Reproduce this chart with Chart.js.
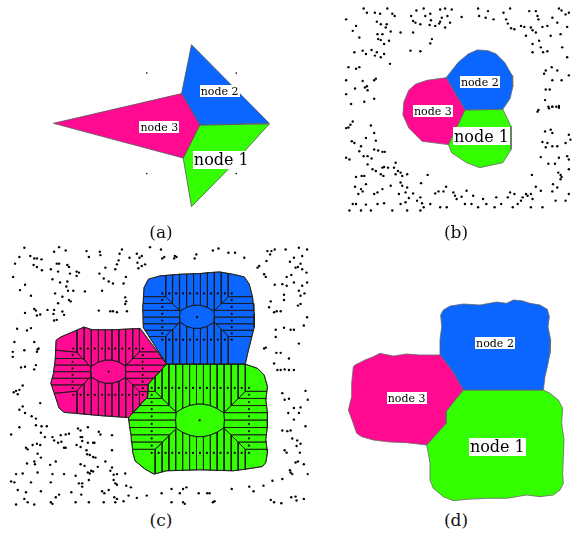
<!DOCTYPE html>
<html><head><meta charset="utf-8">
<script src="https://cdn.jsdelivr.net/npm/chart.js@4.4.1/dist/chart.umd.min.js"></script>
<style>
html,body{margin:0;padding:0;background:#fff;}
#wrap{position:relative;width:573px;height:540px;overflow:hidden;background:#fff;}
canvas{position:absolute;}
.cap{position:absolute;font-family:"DejaVu Serif",serif;font-size:17px;color:#111;width:40px;text-align:center;line-height:20px;}
</style></head><body>
<div id="wrap">
<canvas id="ca" width="250" height="190" style="left:40px;top:30px;width:250px;height:190px"></canvas>
<canvas id="cb" width="233" height="217" style="left:340px;top:0px;width:233px;height:217px"></canvas>
<canvas id="cc" width="310" height="270" style="left:0px;top:240px;width:310px;height:270px"></canvas>
<canvas id="cd" width="233" height="220" style="left:340px;top:290px;width:233px;height:220px"></canvas>
<div class="cap" style="left:141px;top:222px">(a)</div>
<div class="cap" style="left:436px;top:222px">(b)</div>
<div class="cap" style="left:141px;top:510px">(c)</div>
<div class="cap" style="left:436px;top:510px">(d)</div>
</div>
<script>
// ---------- colours ----------
const MAGENTA = '#ff0a90', BLUE = '#0a66ff', GREEN = '#33ff00';
const nodeNames = ['node 1', 'node 2', 'node 3'];

// ---------- panel (a) ----------
const aBlue = [[455,42],[690,280],[480,285],[425,190]];
const aMagenta = [[38,280],[425,190],[480,285],[430,385]];
const aGreen = [[480,285],[690,282],[560,425],[455,532],[430,385]];
const aDots = [[320,128],[590,128],[320,432],[590,432]];
const aLabelX = [545, 540, 358];
const aLabelY = [390, 183, 292];

// ---------- panel (b) ----------
const bBlue = [[318,232],[355,185],[385,160],[412,148],[445,150],[470,160],[495,185],[518,225],[520,260],[512,295],[490,328],[375,330]];
const bMagenta = [[318,232],[375,330],[325,435],[300,432],[245,425],[205,385],[187,345],[190,305],[205,270],[225,252],[260,240]];
const bGreen = [[375,330],[490,328],[515,380],[515,450],[490,490],[420,505],[380,490],[335,460],[325,435]];
const bLabelX = [425, 420, 278];
const bLabelY = [410, 245, 332];
const bDots = [
[68,22],[78,35],[102,35],[118,38],[140,22],[155,38],[162,45],[15,55],[212,45],[228,28],[250,22],[255,45],[270,38],[300,25],[315,22],[335,25],[305,50],[322,45],[365,48],[415,22],[418,45],[438,50],[445,30],[462,55],[492,35],[512,22],[500,55],[570,30],[590,30],[595,45],[598,55],[640,50],[660,22],[668,28],[680,40],[690,35],
[45,75],[35,90],[108,62],[120,70],[138,70],[135,80],[150,92],[125,100],[110,100],[180,95],[218,60],[225,65],[240,70],[268,72],[272,58],[285,75],[297,68],[315,80],[330,65],[300,62],[505,68],[515,82],[525,85],[545,75],[555,78],[575,80],[580,88],[590,95],[610,78],[625,75],[655,65],[685,78],[218,95],[560,105],[635,105],[665,100],
[55,110],[112,115],[120,118],[145,120],[130,130],[275,115],[270,128],[40,155],[65,150],[75,160],[92,148],[108,155],[102,165],[120,170],[130,160],[148,190],[210,150],[240,152],[580,130],[605,140],[580,155],[612,155],[625,152],[685,170],[638,200],[620,210],[655,210],[600,120],[670,140],
[22,200],[45,205],[55,200],[15,240],[65,242],[100,240],[105,235],[78,258],[72,262],[80,270],[42,265],[15,282],[100,296],[30,312],[70,305],[615,220],[640,240],[668,240],[690,225],[620,268],[632,268],[618,300],[628,320],[640,320],[652,320],[660,318],
[35,365],[28,375],[22,383],[15,385],[90,377],[100,400],[75,415],[105,423],[32,425],[40,430],[60,440],[55,455],[68,470],[80,470],[92,477],[100,450],[112,453],[125,457],[132,457],[15,475],[25,480],[80,495],[95,510],[105,515],[125,505],[130,503],[142,505],[160,505],[165,490],[172,515],[180,520],[200,525],[165,525],[185,530],[120,525],[128,530],[45,533],[62,530],[70,530],[75,555],[60,570],[42,563],[52,585],[65,577],[100,585],[110,580],[125,570],[150,560],[180,550],[185,560],[200,565],[195,580],[175,585],[205,597],[218,583],[230,605],[240,595],[242,552],[262,527],[45,615],[35,615],[75,617],[110,615],[130,613],[180,615],[195,610],[245,613],[250,625],[270,615],[285,583],[295,577],[310,577],[318,563],[340,580],[345,590],[350,600],[365,593],[375,615],[395,615],[415,625],[440,615],[465,625],[485,615],[505,595],[512,580],[525,585],[535,615],[545,605],[550,595],[560,585],[565,590],[575,585],[580,600],[590,563],[605,575],[640,577],[642,555],[655,565],[665,540],[680,605],[690,585],[650,605],[610,625],[575,625],[520,625],[470,595],[430,600],[400,590],[380,575],[320,625],[300,625],[240,635],[200,635],[155,635],[90,635],[60,635],[25,635],
[595,335],[598,330],[630,325],[640,320],[660,323],[635,390],[618,395],[640,400],[625,430],[610,427],[620,443],[640,440],[655,440],[680,430],[690,405],[695,420],[605,473],[628,493],[648,493],[660,475],[685,470],[690,480],[578,527],[658,520],[665,527],[668,533],[690,510]
];

// ---------- panel (c) ----------
const cBlue = [[500,372],[430,262],[428,200],[432,140],[445,115],[480,105],[540,100],[600,98],[630,95],[660,93],[700,100],[735,108],[750,130],[760,170],[765,220],[765,260],[755,300],[745,340],[738,372]];
const cMagenta = [[500,372],[445,432],[442,472],[385,534],[300,528],[190,518],[175,505],[162,465],[150,430],[158,400],[163,360],[166,300],[180,290],[215,275],[250,260],[275,268],[340,268],[420,264]];
const cGreen = [[500,372],[738,372],[775,385],[795,405],[805,440],[800,480],[805,520],[805,560],[800,600],[805,640],[800,670],[790,682],[740,690],[700,695],[600,692],[500,695],[462,705],[435,690],[405,665],[398,640],[393,590],[388,560],[385,534],[442,472],[445,432]];
// node dot layouts (centre, row x positions, top/bottom row y, side column x, side column y)
const cBlueCentre = [592,230];
const cBlueRowX = [487,508,529,550,571,592,613,634,655,676,697];
const cBlueRowY = [158,298];
const cBlueColX = [487,697];
const cBlueColY = [178,199,220,240,260,279];
const cMagentaCentre = [325,395];
const cMagentaRowX = [218,240,262,283,305,325,345,366,387,408,428];
const cMagentaRowY = [325,465];
const cMagentaColX = [216,428];
const cMagentaColY = [345,365,385,405,425,445];
const cGreenCentre = [600,542];
const cGreenRowX = [455,476,497,517,538,559,580,601,622,643,663,685,706,727,749];
const cGreenRowY = [444,641];
const cGreenColX = [455,749];
const cGreenColY = [465,487,508,530,553,575,597,619];
const cDots = [
[70,20],[160,32],[175,18],[195,28],[258,30],[265,48],[298,32],[300,42],[358,38],[365,25],[410,38],[418,50],[425,45],[450,18],[55,48],[88,45],[100,52],[108,52],[122,55],[42,68],[98,72],[108,78],[168,68],[175,68],[200,72],[205,78],[123,88],[150,85],[172,92],[228,92],[235,95],[208,98],[315,80],[345,85],[350,70],[355,58],[388,50],[412,65],[425,75],[435,70],[415,82],[297,98],[36,108],[155,115],[178,125],[200,122],[228,105],[310,113],[325,122],[338,128],[370,128],[377,108],[72,132],[197,137],[202,150],[218,150],[253,152],[57,148],[305,150],[163,158],[90,165],[185,168],[205,178],[210,182],[375,170],[378,182],[375,190],[172,188],[100,205],[105,210],[140,208],[160,208],[72,217],[118,222],[108,225],[158,220],[185,213],[190,223],[295,210],[330,212],[338,212],[350,215],[380,212],[168,238],[160,240],[48,265],[78,270],[90,263],[40,305],[100,305],[70,330],[110,328],[113,325],[108,335],[35,335],[35,350],[60,382],[72,380],[105,375],[100,388],
[483,25],[525,45],[530,48],[493,48],[487,52],[523,52],[585,52],[590,40],[640,28],[657,22],[687,35],[707,35],[735,50],[805,30],[817,30],[827,25],[813,40],[860,25],[900,20],[925,25],[885,50],[910,45],[873,62],[905,68],[780,75],[775,80],[802,60],[795,100],[800,108],[890,80],[897,78],[910,85],[863,108],[877,102],[923,95],[850,130],[885,125],[910,135],[925,125],[827,132],[863,135],[900,150],[905,165],[917,158],[855,162],[855,178],[815,182],[810,200],[825,215],[833,212],[845,212],[897,195],[905,190],[925,230],[830,268],[855,262],[875,268],[885,268],[915,255],[830,290],[900,310],[795,325],[800,322],[832,338],[845,338],[870,355],[825,370],[835,390],[845,390],[857,388],[870,390],[885,390],
[65,437],[55,450],[45,453],[38,457],[50,463],[65,500],[55,510],[72,520],[92,530],[105,537],[118,490],[55,563],[105,557],[122,560],[138,560],[120,580],[30,585],[132,593],[155,593],[160,603],[180,587],[195,585],[205,583],[232,567],[240,573],[262,563],[295,577],[300,585],[335,587],[182,607],[172,610],[190,625],[195,625],[228,617],[240,593],[245,593],[245,605],[262,610],[278,610],[282,610],[240,623],[258,633],[260,645],[268,647],[278,653],[285,655],[75,625],[80,630],[95,617],[108,613],[118,617],[110,643],[120,655],[78,673],[100,667],[102,675],[148,677],[165,667],[240,675],[252,680],[292,683],[315,667],[335,633],[335,685],[330,695],[272,695],[278,697],[262,700],[268,703],[45,705],[65,703],[110,700],[155,705],[190,705],[225,710],[265,723],[340,707],[350,705],[375,703],[30,727],[40,730],[90,730],[150,730],[235,733],[245,733],[245,743],[340,723],[345,733],[350,737],[392,745],[378,740],[50,753],[75,760],[120,757],[175,767],[165,775],[212,760],[242,767],[305,757],[312,763],[325,753],[342,775],[350,780],[385,770],[410,777],[440,770],[70,780],[80,790],[150,790],[155,795],[225,790],[265,790],[310,790],[345,790],[370,787],[45,797],[100,797],
[850,460],[857,480],[870,477],[920,453],[927,480],[885,505],[905,503],[868,520],[885,540],[900,520],[920,560],[850,573],[865,575],[875,573],[880,597],[895,603],[905,613],[893,620],[857,633],[863,640],[903,640],[890,670],[897,667],[915,675],[873,693],[875,700],[880,705],[927,705],[850,720],[820,725],[793,740],[763,757],[750,743],[697,750],[630,763],[623,763],[597,763],[560,745],[550,750],[540,763],[515,750],[485,763],[550,790],[555,795],[645,787],[640,790],[515,790],[815,783],[825,790],[847,793],[877,775],[890,773],[893,785],[915,780]
];

// ---------- panel (d) ----------
const dBlue = [[370,300],[335,240],[300,195],[300,150],[305,110],[302,75],[310,60],[330,48],[370,42],[420,45],[470,36],[500,40],[520,30],[545,32],[570,40],[600,45],[622,58],[628,80],[624,110],[632,150],[630,190],[622,230],[615,260],[610,300]];
const dMagenta = [[370,300],[345,330],[318,365],[318,400],[260,465],[200,458],[150,456],[100,450],[65,440],[50,430],[38,395],[25,360],[35,320],[35,280],[40,230],[45,225],[75,210],[100,200],[120,190],[130,192],[160,198],[200,192],[240,195],[300,195],[335,240]];
const dGreen = [[370,300],[610,300],[630,310],[655,330],[668,355],[665,400],[672,450],[670,500],[668,550],[670,580],[660,600],[640,615],[600,620],[560,615],[500,625],[440,625],[380,628],[340,632],[310,620],[280,595],[270,570],[270,520],[265,490],[260,465],[318,400],[318,365],[345,330]];
const dLabelX = [472, 465, 200];
const dLabelY = [472, 160, 325];

// ---------- helpers ----------
const labelPlugin = {
  id: 'nodeLabels',
  afterDatasetsDraw(chart, args, opts) {
    const ctx = chart.ctx, xs = chart.scales.x, ys = chart.scales.y;
    (opts.items || []).forEach(it => {
      ctx.save();
      ctx.font = it.size + 'px "DejaVu Serif", serif';
      const w = ctx.measureText(it.text).width;
      const px = xs.getPixelForValue(it.x), py = ys.getPixelForValue(it.y);
      const h = Math.round(it.size * 1.12);
      ctx.fillStyle = '#fff';
      ctx.fillRect(Math.round(px - w / 2 - 1), Math.round(py - h / 2), Math.round(w + 2), h);
      ctx.fillStyle = '#000';
      ctx.textAlign = 'center';
      ctx.textBaseline = 'middle';
      ctx.fillText(it.text, px, py + 1);
      ctx.restore();
    });
  }
};

function polyDs(pts, fillColor, border, bw, order) {
  const d = pts.map(p => ({x: p[0], y: p[1]}));
  d.push({x: pts[0][0], y: pts[0][1]});
  return {type: 'line', data: d, showLine: true, fill: fillColor ? 'shape' : false,
    backgroundColor: fillColor || 'rgba(0,0,0,0)', borderColor: border, borderWidth: bw,
    pointRadius: 0, pointHoverRadius: 0, tension: 0, order: order};
}
function dotDs(pts, r, order) {
  return {type: 'scatter', data: pts.map(p => ({x: p[0], y: p[1]})), pointRadius: r,
    pointHoverRadius: r, backgroundColor: '#000', borderWidth: 0, order: order};
}
function labelItems(xs, ys, sizes) {
  return nodeNames.map((t, i) => ({text: t, x: xs[i], y: ys[i], size: sizes[i]}));
}
function makeChart(id, W, H, datasets, labels) {
  return new Chart(document.getElementById(id), {
    type: 'scatter',
    data: {datasets: datasets},
    options: {
      responsive: false, animation: false, devicePixelRatio: 1, events: [],
      layout: {padding: 0},
      plugins: {legend: {display: false}, tooltip: {enabled: false}, nodeLabels: {items: labels}},
      scales: {
        x: {type: 'linear', min: 0, max: W, display: false},
        y: {type: 'linear', min: 0, max: H, reverse: true, display: false}
      }
    },
    plugins: [labelPlugin]
  });
}
// Voronoi cells of the node dots, clipped to the node region
function clipHalf(poly, nx, ny, c) {
  const out = [];
  for (let i = 0; i < poly.length; i++) {
    const P = poly[i], Q = poly[(i + 1) % poly.length];
    const vp = nx * P[0] + ny * P[1] - c, vq = nx * Q[0] + ny * Q[1] - c;
    if (vp <= 0) out.push(P);
    if ((vp < 0 && vq > 0) || (vp > 0 && vq < 0)) {
      const t = vp / (vp - vq);
      out.push([P[0] + t * (Q[0] - P[0]), P[1] + t * (Q[1] - P[1])]);
    }
  }
  return out;
}
function voronoi(sites, outline) {
  return sites.map((s, i) => {
    let poly = outline.slice();
    sites.forEach((o, j) => {
      if (i === j || poly.length < 3) return;
      const nx = o[0] - s[0], ny = o[1] - s[1];
      const c = nx * (s[0] + o[0]) / 2 + ny * (s[1] + o[1]) / 2;
      poly = clipHalf(poly, nx, ny, c);
    });
    return poly;
  }).filter(p => p.length >= 3);
}
function nodeSites(centre, rowX, rowY, colX, colY) {
  const s = [centre];
  rowX.forEach(x => { s.push([x, rowY[0]]); s.push([x, rowY[1]]); });
  colY.forEach(y => { s.push([colX[0], y]); s.push([colX[1], y]); });
  return s;
}

// ---------- build charts ----------
makeChart('ca', 750, 570, [
  polyDs(aMagenta, MAGENTA, '#555', 0.8, 2),
  polyDs(aBlue, BLUE, '#555', 0.8, 2),
  polyDs(aGreen, GREEN, '#555', 0.8, 2),
  dotDs(aDots, 0.8, 0)
], labelItems(aLabelX, aLabelY, [16, 11, 11]));

makeChart('cb', 699, 651, [
  polyDs(bMagenta, MAGENTA, '#666', 0.8, 2),
  polyDs(bBlue, BLUE, '#666', 0.8, 2),
  polyDs(bGreen, GREEN, '#666', 0.8, 2),
  dotDs(bDots, 1.2, 0)
], labelItems(bLabelX, bLabelY, [16, 11, 11]));

const regions = [
  [cMagenta, MAGENTA, nodeSites(cMagentaCentre, cMagentaRowX, cMagentaRowY, cMagentaColX, cMagentaColY)],
  [cBlue, BLUE, nodeSites(cBlueCentre, cBlueRowX, cBlueRowY, cBlueColX, cBlueColY)],
  [cGreen, GREEN, nodeSites(cGreenCentre, cGreenRowX, cGreenRowY, cGreenColX, cGreenColY)]
];
const cDatasets = [];
regions.forEach(([outline, col, sites]) => {
  cDatasets.push(polyDs(outline, col, '#444', 1, 3));
  voronoi(sites, outline).forEach(cell => cDatasets.push(polyDs(cell, null, '#1a1a1a', 0.8, 2)));
  cDatasets.push(dotDs(sites, 1.1, 0));
});
cDatasets.push(dotDs(cDots, 1.2, 0));
makeChart('cc', 930, 810, cDatasets, []);

makeChart('cd', 699, 660, [
  polyDs(dMagenta, MAGENTA, '#666', 0.8, 2),
  polyDs(dBlue, BLUE, '#666', 0.8, 2),
  polyDs(dGreen, GREEN, '#666', 0.8, 2)
], labelItems(dLabelX, dLabelY, [16, 11, 11]));
</script>
</body></html>
